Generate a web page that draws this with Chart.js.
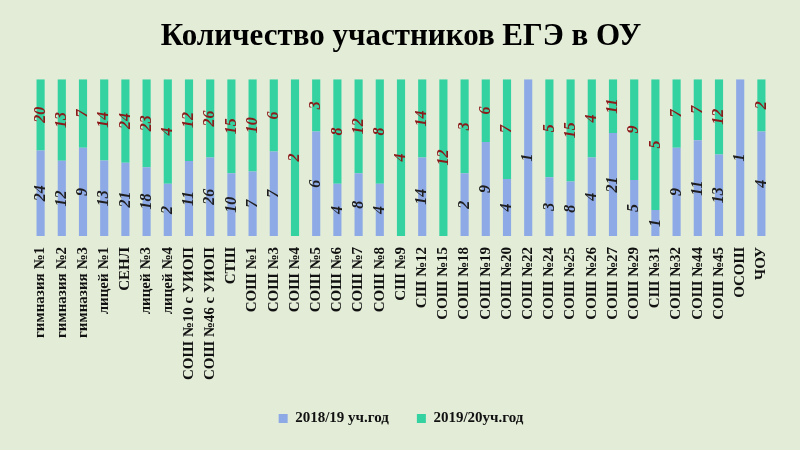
<!DOCTYPE html>
<html>
<head>
<meta charset="utf-8">
<script src="https://cdn.jsdelivr.net/npm/chart.js@4.4.0/dist/chart.umd.min.js"></script>
<style>
  html, body { margin: 0; padding: 0; background: #e3ecd7; }
  #wrap { width: 800px; height: 450px; position: relative; }
</style>
</head>
<body>
<div id="wrap"><canvas id="c"></canvas></div>
<script>
const categories = ['гимназия №1','гимназия №2','гимназия №3','лицей №1','СЕНЛ','лицей №3','лицей №4',
  'СОШ №10 с УИОП','СОШ №46 с УИОП','СТШ','СОШ №1','СОШ №3','СОШ №4','СОШ №5','СОШ №6','СОШ №7',
  'СОШ №8','СШ №9','СШ №12','СОШ №15','СОШ №18','СОШ №19','СОШ №20','СОШ №22','СОШ №24','СОШ №25',
  'СОШ №26','СОШ №27','СОШ №29','СШ №31','СОШ №32','СОШ №44','СОШ №45','ОСОШ','ЧОУ'];
const year2018 = [24,12,9,13,21,18,2,11,26,10,7,7,0,6,4,8,4,0,14,0,2,9,4,1,3,8,4,21,5,1,9,11,13,1,4];
const year2019 = [20,13,7,14,24,23,4,12,26,15,10,6,2,3,8,12,8,4,14,12,3,6,7,0,5,15,4,11,9,5,7,7,12,0,2];

const totals = year2018.map((v, i) => v + year2019[i]);
const pct = arr => arr.map((v, i) => totals[i] ? v / totals[i] * 100 : 0);

const labelPlugin = {
  id: 'segLabels',
  afterDatasetsDraw(chart) {
    const ctx = chart.ctx;
    const raw = [year2018, year2019];
    const colors = ['#1f1f1f', '#8b1a1a'];
    chart.data.datasets.forEach((ds, di) => {
      chart.getDatasetMeta(di).data.forEach((bar, i) => {
        const v = raw[di][i];
        if (!v) return;
        const y = (bar.y + bar.base) / 2;
        ctx.save();
        ctx.translate(bar.x, y);
        ctx.rotate(-Math.PI / 2);
        ctx.font = 'italic bold 16px "Liberation Serif"';
        ctx.fillStyle = colors[di];
        ctx.textAlign = 'center';
        ctx.textBaseline = 'middle';
        ctx.fillText(v, 0, 0);
        ctx.restore();
      });
    });
  }
};

new Chart(document.getElementById('c'), {
  type: 'bar',
  data: {
    labels: categories,
    datasets: [
      { label: '2018/19 уч.год', data: pct(year2018), backgroundColor: '#8eaae6', categoryPercentage: 0.8, barPercentage: 0.48 },
      { label: '2019/20уч.год', data: pct(year2019), backgroundColor: '#33d2a0', categoryPercentage: 0.8, barPercentage: 0.48 }
    ]
  },
  options: {
    responsive: true,
    maintainAspectRatio: false,
    animation: false,
    layout: { padding: { left: 30, right: 28, top: 10, bottom: 14 } },
    scales: {
      x: {
        stacked: true,
        grid: { display: false },
        border: { display: false },
        ticks: {
          color: '#111',
          font: { family: 'Liberation Serif', weight: 'bold', size: 15 },
          maxRotation: 90, minRotation: 90, autoSkip: false
        }
      },
      y: { stacked: true, min: 0, max: 100, display: false }
    },
    plugins: {
      title: {
        display: true,
        text: 'Количество участников ЕГЭ в ОУ',
        color: '#000',
        font: { family: 'Liberation Serif', weight: 'bold', size: 31 },
        padding: { top: 8, bottom: 24 }
      },
      legend: {
        position: 'bottom',
        labels: {
          color: '#111',
          boxWidth: 9, boxHeight: 9,
          padding: 28,
          font: { family: 'Liberation Serif', weight: 'bold', size: 15 }
        }
      },
      tooltip: { enabled: false }
    }
  },
  plugins: [labelPlugin]
});
</script>
</body>
</html>
